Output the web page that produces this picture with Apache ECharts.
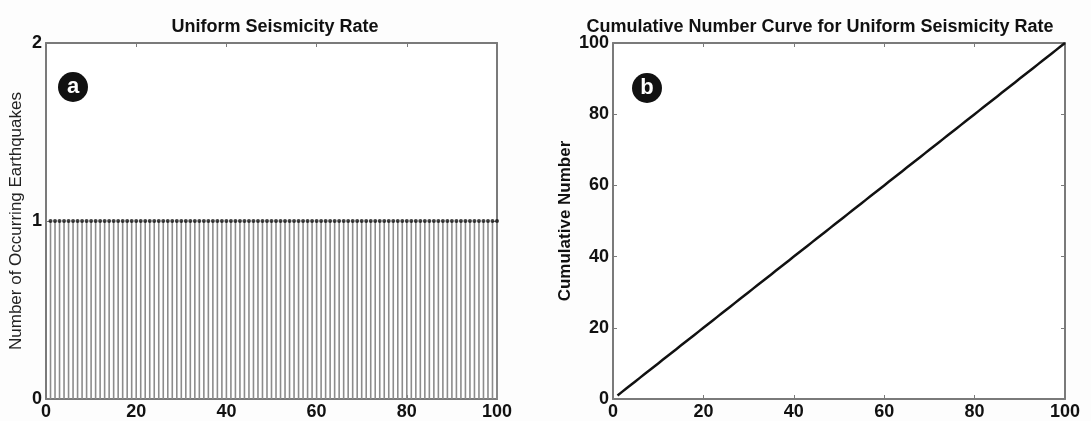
<!DOCTYPE html>
<html>
<head>
<meta charset="utf-8">
<script src="https://cdn.jsdelivr.net/npm/echarts@6/dist/echarts.min.js"></script>
<style>
  html, body { margin: 0; padding: 0; background: #fdfdfd; }
  #chart { width: 1091px; height: 421px; }
</style>
</head>
<body>
<div id="chart"></div>
<script>
// Time steps 1..100, one earthquake per step (uniform rate)
const steps = [1,2,3,4,5,6,7,8,9,10,11,12,13,14,15,16,17,18,19,20,
  21,22,23,24,25,26,27,28,29,30,31,32,33,34,35,36,37,38,39,40,
  41,42,43,44,45,46,47,48,49,50,51,52,53,54,55,56,57,58,59,60,
  61,62,63,64,65,66,67,68,69,70,71,72,73,74,75,76,77,78,79,80,
  81,82,83,84,85,86,87,88,89,90,91,92,93,94,95,96,97,98,99,100];
const counts = [1,1,1,1,1,1,1,1,1,1,1,1,1,1,1,1,1,1,1,1,
  1,1,1,1,1,1,1,1,1,1,1,1,1,1,1,1,1,1,1,1,
  1,1,1,1,1,1,1,1,1,1,1,1,1,1,1,1,1,1,1,1,
  1,1,1,1,1,1,1,1,1,1,1,1,1,1,1,1,1,1,1,1,
  1,1,1,1,1,1,1,1,1,1,1,1,1,1,1,1,1,1,1,1];
const cumulative = [1,2,3,4,5,6,7,8,9,10,11,12,13,14,15,16,17,18,19,20,
  21,22,23,24,25,26,27,28,29,30,31,32,33,34,35,36,37,38,39,40,
  41,42,43,44,45,46,47,48,49,50,51,52,53,54,55,56,57,58,59,60,
  61,62,63,64,65,66,67,68,69,70,71,72,73,74,75,76,77,78,79,80,
  81,82,83,84,85,86,87,88,89,90,91,92,93,94,95,96,97,98,99,100];

const titles = ['Uniform Seismicity Rate', 'Cumulative Number Curve for Uniform Seismicity Rate'];
const yNames = ['Number of Occurring Earthquakes', 'Cumulative Number'];
const panelTags = ['a', 'b'];

const FONT = 'Liberation Sans, Arial, sans-serif';
const frame = '#7a7a7a';
const labelStyle = { color: '#111', fontWeight: 'bold', fontSize: 18, fontFamily: FONT };

function xAxes(gi) {
  const base = {
    type: 'value', gridIndex: gi, min: 0, max: 100, interval: 20,
    axisLine: { show: true, onZero: false, lineStyle: { color: frame, width: 2 } },
    axisTick: { show: true, inside: true, length: 4, lineStyle: { color: frame, width: 1 } },
    splitLine: { show: false }
  };
  return [
    Object.assign({}, base, { position: 'bottom', axisLabel: Object.assign({ margin: 4 }, labelStyle) }),
    Object.assign({}, base, { position: 'top', axisLabel: { show: false } })
  ];
}
function yAxes(gi, max, interval, name, nameStyle, gap) {
  const base = {
    type: 'value', gridIndex: gi, min: 0, max: max, interval: interval,
    axisLine: { show: true, onZero: false, lineStyle: { color: frame, width: 2 } },
    axisTick: { show: true, inside: true, length: 4, lineStyle: { color: frame, width: 1 } },
    splitLine: { show: false }
  };
  return [
    Object.assign({}, base, {
      position: 'left', name: name, nameLocation: 'middle', nameGap: gap, nameRotate: 90,
      nameTextStyle: nameStyle,
      axisLabel: Object.assign({ margin: 4 }, labelStyle)
    }),
    Object.assign({}, base, { position: 'right', axisLabel: { show: false } })
  ];
}

const chart = echarts.init(document.getElementById('chart'), null, { renderer: 'canvas' });

const stemData = steps.map((s, i) => [s, counts[i]]);
const cumData = steps.map((s, i) => [s, cumulative[i]]);

chart.setOption({
  backgroundColor: '#fdfdfd',
  animation: false,
  title: [
    { text: titles[0], left: 270, top: 13, textAlign: 'center',
      textStyle: { fontSize: 18, fontWeight: 'bold', color: '#111', fontFamily: FONT } },
    { text: titles[1], left: 815, top: 13, textAlign: 'center',
      textStyle: { fontSize: 18, fontWeight: 'bold', color: '#111', fontFamily: FONT } }
  ],
  grid: [
    { left: 46, top: 43, width: 451, height: 357, show: true, backgroundColor: '#ffffff', borderWidth: 0 },
    { left: 613, top: 43, width: 452, height: 357, show: true, backgroundColor: '#ffffff', borderWidth: 0 }
  ],
  xAxis: [].concat(xAxes(0), xAxes(1)),
  yAxis: [].concat(
    yAxes(0, 2, 1, yNames[0], { color: '#222', fontSize: 17, fontFamily: FONT }, 21),
    yAxes(1, 100, 20, yNames[1], { color: '#111', fontSize: 17, fontWeight: 'bold', fontFamily: FONT }, 39)
  ),
  series: [
    {
      type: 'bar', xAxisIndex: 0, yAxisIndex: 0, data: stemData,
      barWidth: 1.6, itemStyle: { color: '#8c8c8c' }, silent: true
    },
    {
      type: 'scatter', xAxisIndex: 0, yAxisIndex: 0, data: stemData,
      symbol: 'circle', symbolSize: 4, itemStyle: { color: '#111' }, silent: true
    },
    {
      type: 'line', xAxisIndex: 2, yAxisIndex: 2, data: cumData,
      showSymbol: false, lineStyle: { color: '#111', width: 2.5 }, silent: true
    }
  ],
  graphic: [
    { type: 'group', left: 58, top: 72, children: [
      { type: 'circle', shape: { cx: 15, cy: 15, r: 15 }, style: { fill: '#111' } },
      { type: 'text', x: 15, y: 15, style: { text: panelTags[0], fill: '#fff', font: 'bold 22px ' + FONT, textAlign: 'center', textVerticalAlign: 'middle' } }
    ]},
    { type: 'group', left: 632, top: 73, children: [
      { type: 'circle', shape: { cx: 15, cy: 15, r: 15 }, style: { fill: '#111' } },
      { type: 'text', x: 15, y: 15, style: { text: panelTags[1], fill: '#fff', font: 'bold 22px ' + FONT, textAlign: 'center', textVerticalAlign: 'middle' } }
    ]}
  ]
});
</script>
</body>
</html>
